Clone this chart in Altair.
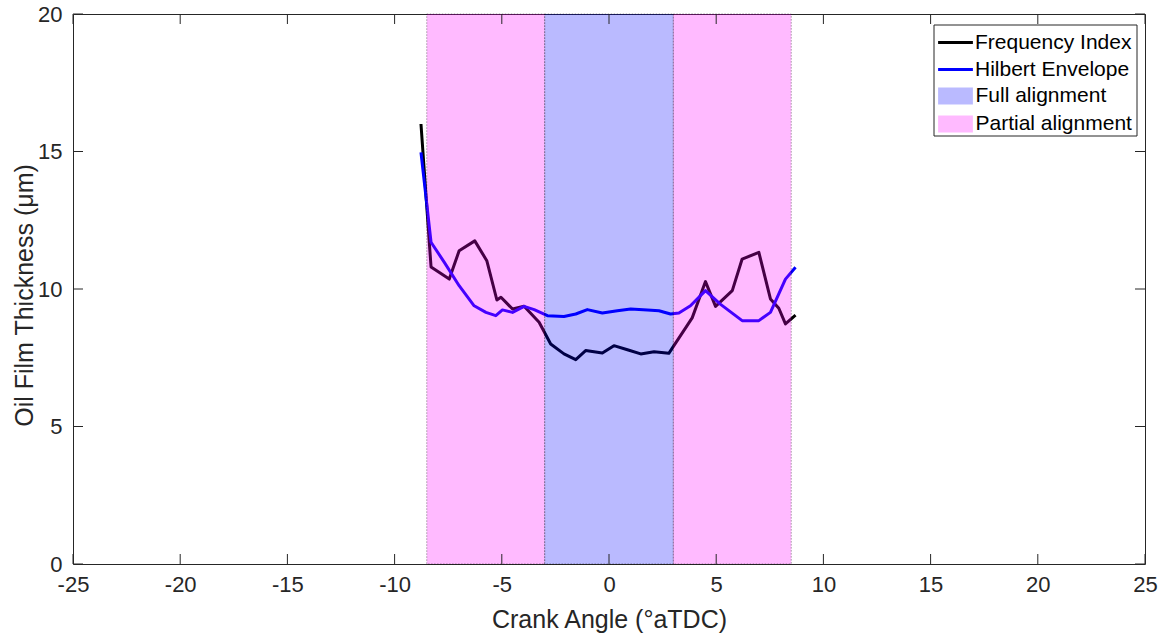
import altair as alt
import pandas as pd

# ---- data ----
fi_angle = [-8.77, -8.3, -7.45, -6.99, -6.26, -5.7, -5.23, -5.04, -4.5, -3.96,
            -3.26, -2.72, -2.1, -1.55, -1.09, -0.31, 0.23, 0.86, 1.48, 2.1,
            2.79, 3.88, 4.5, 4.97, 5.75, 6.21, 6.99, 7.53, 7.92, 8.23, 8.7]
fi_thick = [16.0, 10.8, 10.36, 11.39, 11.75, 11.03, 9.6, 9.7, 9.27, 9.37,
            8.79, 8.0, 7.64, 7.43, 7.76, 7.67, 7.94, 7.79, 7.64, 7.72,
            7.66, 8.95, 10.27, 9.37, 9.94, 11.09, 11.33, 9.64, 9.3, 8.73, 9.05]

he_angle = [-8.77, -8.3, -7.68, -6.99, -6.29, -5.74, -5.28, -4.97, -4.5, -3.96,
            -3.49, -2.87, -2.1, -1.55, -1.01, -0.31, 0.39, 1.01, 1.79, 2.33,
            2.87, 3.26, 3.8, 4.5, 5.19, 6.21, 6.99, 7.53, 8.23, 8.7]
he_thick = [14.97, 11.7, 10.97, 10.12, 9.39, 9.15, 9.03, 9.24, 9.15, 9.37,
            9.25, 9.03, 9.0, 9.09, 9.25, 9.13, 9.21, 9.27, 9.24, 9.21,
            9.09, 9.13, 9.39, 9.94, 9.45, 8.85, 8.85, 9.15, 10.36, 10.79]

series_names = ["Frequency Index", "Hilbert Envelope"]
series_colors = ["#000000", "#0000ff"]

band_start = [-8.5, -3.0, 3.0]
band_end = [-3.0, 3.0, 8.5]
band_kind = ["Partial alignment", "Full alignment", "Partial alignment"]
band_names = ["Full alignment", "Partial alignment"]
band_colors = ["#0000ff", "#ff00ff"]

x_ticks = [-25, -20, -15, -10, -5, 0, 5, 10, 15, 20, 25]
y_ticks = [0, 5, 10, 15, 20]

# ---- tables ----
line_df = pd.concat([
    pd.DataFrame({"angle": fi_angle, "thick": fi_thick, "series": series_names[0]}),
    pd.DataFrame({"angle": he_angle, "thick": he_thick, "series": series_names[1]}),
], ignore_index=True)
band_df = pd.DataFrame({"start": band_start, "end": band_end, "band": band_kind})
xt_df = pd.DataFrame({"v": x_ticks})
yt_df = pd.DataFrame({"v": y_ticks})

W, H = 1072, 550
FONT = "Liberation Sans"
AX = "#262626"
LBL = "replace(datum.label, '\u2212', '-')"

x_scale = alt.Scale(domain=[-25, 25], nice=False, zero=False)
y_scale = alt.Scale(domain=[0, 20], nice=False, zero=False)

x_axis = alt.Axis(values=x_ticks, ticks=False, domain=False, grid=False,
                  labelFontSize=22, labelPadding=10, labelFlush=False, labelExpr=LBL,
                  title="Crank Angle (°aTDC)", titleFontSize=25,
                  titleFontWeight="normal", titleBaseline="alphabetic", titleY=63)
y_axis = alt.Axis(values=y_ticks, ticks=False, domain=False, grid=False,
                  labelFontSize=22, labelPadding=11, labelFlush=False, labelExpr=LBL,
                  title="Oil Film Thickness (μm)", titleFontSize=25,
                  titleFontWeight="normal", titleAngle=270, titleAlign="center",
                  titleBaseline="alphabetic", titleX=-41, titleY=281)

X = lambda f: alt.X(f, type="quantitative", scale=x_scale, axis=x_axis)
Y = lambda f: alt.Y(f, type="quantitative", scale=y_scale, axis=y_axis)

lines = alt.Chart(line_df).mark_line(strokeWidth=3, strokeJoin="round").encode(
    x=X("angle"),
    y=Y("thick"),
    stroke=alt.Stroke("series:N",
                      scale=alt.Scale(domain=series_names, range=series_colors),
                      sort=series_names,
                      legend=alt.Legend(orient="none", legendX=865, legendY=15,
                                        title=None, padding=0, rowPadding=3,
                                        symbolType="M-1.45,0H1.45", symbolSize=576,
                                        symbolStrokeWidth=3, symbolOffset=4,
                                        labelOffset=6)),
)

bands = alt.Chart(band_df).mark_rect(fillOpacity=0.27, stroke="#000000",
                                     strokeOpacity=0.35, strokeWidth=1,
                                     strokeDash=[1.5, 1.5]).encode(
    x=X("start"),
    x2="end:Q",
    y=alt.value(0),
    y2=alt.value(H),
    fill=alt.Fill("band:N",
                  scale=alt.Scale(domain=band_names, range=band_colors),
                  legend=alt.Legend(orient="none", legendX=865, legendY=70,
                                    title=None, padding=0, rowPadding=6,
                                    symbolType="M-1.45,-0.71H1.45V0.71H-1.45Z",
                                    symbolSize=576, symbolStrokeWidth=0,
                                    symbolOpacity=0.27, symbolOffset=5.5,
                                    labelOffset=8)),
)

tick_style = dict(color=AX, strokeWidth=1)
xt_bottom = alt.Chart(xt_df).mark_rule(**tick_style).encode(
    x=X("v"), y=alt.value(H), y2=alt.value(H - 10))
xt_top = alt.Chart(xt_df).mark_rule(**tick_style).encode(
    x=X("v"), y=alt.value(0), y2=alt.value(10))
yt_left = alt.Chart(yt_df).mark_rule(**tick_style).encode(
    y=Y("v"), x=alt.value(0), x2=alt.value(10))
yt_right = alt.Chart(yt_df).mark_rule(**tick_style).encode(
    y=Y("v"), x=alt.value(W), x2=alt.value(W - 10))

legend_box = alt.Chart(pd.DataFrame({"a": [0]})).mark_rect(
    fill="white", stroke=AX, strokeWidth=1).encode(
    x=alt.value(861), x2=alt.value(1064), y=alt.value(11), y2=alt.value(122))

chart = alt.layer(lines, bands, xt_bottom, xt_top, yt_left, yt_right, legend_box).properties(
    width=W, height=H,
    autosize=alt.AutoSizeParams(type="none"),
    padding={"left": 73, "top": 14, "right": 21, "bottom": 73},
    background="white",
).resolve_scale(
    stroke="independent", fill="independent"
).configure_axis(
    labelFont=FONT, titleFont=FONT, labelColor=AX, titleColor=AX,
).configure_legend(
    labelFont=FONT, labelFontSize=21, labelColor="#000000",
).configure_view(
    stroke=AX, strokeWidth=1,
)

chart.save("out.html", embed_options={"renderer": "svg", "actions": False})
